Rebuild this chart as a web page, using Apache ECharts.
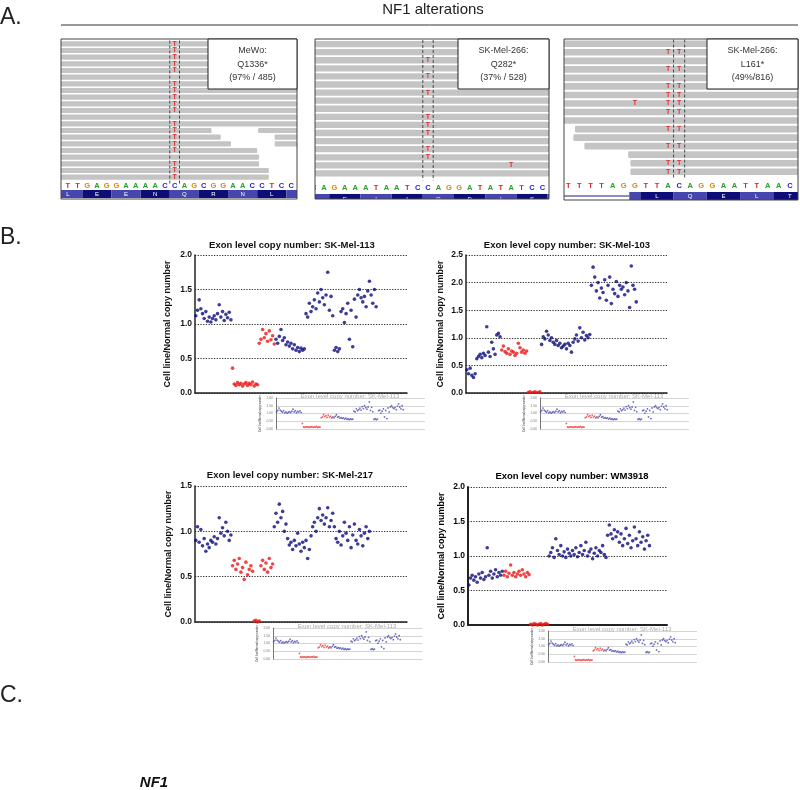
<!DOCTYPE html>
<html><head><meta charset="utf-8">
<script src="https://cdn.jsdelivr.net/npm/echarts@6/dist/echarts.min.js"></script>
<style>html,body{margin:0;padding:0;background:#fff}#c{width:800px;height:790px}</style>
</head><body><div id="c"></div>
<script>
// ================= DATA =================
const sectionLabels = ["A.", "B.", "C."];
const panelATitle = "NF1 alterations";
const geneLabel = "NF1";

// --- Panel A: read pile-ups ---
const labelMeWo = ["MeWo:", "Q1336*", "(97% / 485)"];
const labelQ282 = ["SK-Mel-266:", "Q282*", "(37% / 528)"];
const labelL161 = ["SK-Mel-266:", "L161*", "(49%/816)"];

const seqMeWo = "TTGAGGAAAACCAGCGGAACCTCC";
const seqQ282 = "CAGAAATAATCCAGGATATATCC";
const seqL161 = "TTTTAGGTTACAGGAATTAACT";

// codons: [start base, end base, amino acid]
const codonMeWo = [[-1,2,"L"],[2,5,"E"],[5,8,"E"],[8,11,"N"],[11,14,"Q"],[14,17,"R"],[17,20,"N"],[20,23,"L"],[23,26,""]];
const codonQ282 = [[-1,2,""],[2,5,"E"],[5,8,"I"],[8,11,"I"],[11,14,"Q"],[14,17,"D"],[17,20,"I"],[20,23,"S"],[23,26,""]];
const codonL161 = [[6,7,""],[7,10,"L"],[10,13,"Q"],[13,16,"E"],[16,19,"L"],[19,22,"T"],[22,25,""]];
const intronL161 = [[-1,6]];

// reads: [row, start base, end base]
const readsMeWo = [[0,-1,25],[1,-1,25],[2,-1,25],[3,-1,25],[4,-1,25],[5,-1,25],[6,-1,25],[7,-1,25],[8,-1,25],[9,-1,25],[10,-1,25],[11,-1,25],[12,-1,25],
  [13,-1,15.3],[13,20.1,25],[14,-1,16.25],[14,21.8,25],[15,-1,17.3],[15,21.8,25],[16,-1,20.0],[17,-1,20.2],[18,-1,20.2],[19,-1,21.2],[20,-1,21.2]];
const readsQ282 = [[0,0,25],[1,0,25],[2,0,25],[3,0,25],[4,0,25],[5,0,25],[6,0,25],[7,0,25],[8,0,25],[9,0,25],[10,0,25],[11,0,25],[12,0,25],[13,0,25],[14,0,25],[15,0,25],[16,0,25]];
const readsL161 = [[0,-1,24],[1,-1,24],[2,-1,24],[3,-1,24],[4,-1,24],[5,-1,24],[6,-1,24],[7,-1,24],[8,-1,24],[9,-1,24],
  [10,1.1,24],[11,0.95,24],[12,1.95,24],[13,5.9,24],[14,6.1,24],[15,6.1,24]];

// mismatches (T): [base, row]
const mmMeWo = [[11,0],[11,1],[11,2],[11,3],[11,4],[11,6],[11,7],[11,8],[11,9],[11,10],[11,12],[11,13],[11,14],[11,15],[11,16],[11,18],[11,19],[11,20]];
const mmQ282 = [[11,2],[11,4],[11,6],[11,9],[11,10],[11,11],[11,13],[11,14],[19,15]];
const mmL161 = [[9,1],[10,1],[9,3],[10,3],[9,5],[10,5],[9,6],[10,6],[9,7],[10,7],[6,7],[9,8],[10,8],[9,10],[10,10],[9,12],[10,12],[9,14],[10,14],[9,15],[10,15]];
const markMeWo = [11, 12], markQ282 = [11, 12], markL161 = [10, 11];

// --- Panel B: exon level copy number (cell line / normal), in exon order ---
const chartTitles = ["Exon level copy number: SK-Mel-113", "Exon level copy number: SK-Mel-103",
                     "Exon level copy number: SK-Mel-217", "Exon level copy number: WM3918"];
const yAxisName = "Cell line/Normal copy number";
const cn113 = [1.12,1.20,1.35,1.22,1.15,1.08,1.18,1.04,1.10,1.03,1.08,1.12,1.06,1.15,1.28,1.10,1.18,1.05,1.14,1.09,1.17,1.06,
  0.36,0.13,0.11,0.15,0.12,0.14,0.10,0.13,0.15,0.11,0.14,0.12,0.16,0.10,0.13,0.12,
  0.72,0.78,0.92,0.80,0.86,0.75,0.90,0.77,0.83,0.71,
  0.78,0.72,0.82,0.92,0.76,0.80,0.70,0.74,0.68,0.72,0.64,0.70,0.62,0.66,0.60,0.65,0.62,0.64,
  1.15,1.10,1.30,1.18,1.25,1.35,1.22,1.45,1.32,1.50,1.38,1.28,1.42,1.75,1.20,1.40,1.12,
  0.62,0.66,0.60,0.64,
  1.18,1.22,1.02,1.15,1.30,0.78,1.20,0.67,1.36,1.10,1.42,1.50,1.38,1.32,1.40,1.25,1.48,1.62,1.42,1.30,1.50,1.25];
const cn103 = [0.42,0.35,0.45,0.32,0.28,0.35,
  0.62,0.66,0.70,0.64,0.72,0.68,1.20,0.74,0.66,0.92,0.80,0.70,1.05,1.08,1.02,
  0.78,0.85,0.75,0.72,0.80,0.70,0.76,0.74,0.68,0.72,0.90,0.82,0.74,0.78,0.72,0.76,
  0.01,0.02,0.00,0.01,0.02,0.00,0.01,0.02,
  0.88,1.02,0.98,1.12,1.05,0.95,1.00,0.92,0.88,0.95,0.86,0.90,0.82,0.85,0.88,0.80,0.90,0.86,0.74,0.92,0.98,1.05,0.94,1.18,1.00,1.10,0.96,1.04,1.00,1.06,
  1.95,2.28,2.10,1.85,2.00,1.72,1.90,1.82,2.05,1.68,1.95,2.10,1.62,1.88,1.80,2.02,1.75,1.95,1.88,1.92,1.78,2.00,1.85,1.55,2.30,1.95,1.88,1.65];
const cn217 = [0.90,1.05,0.88,1.02,0.84,0.92,0.78,0.86,0.82,0.90,0.88,0.94,0.86,0.92,1.15,0.98,1.04,0.95,1.10,1.00,0.90,0.96,
  0.62,0.68,0.58,0.64,0.70,0.55,0.60,0.47,0.66,0.52,0.58,0.62,0.56,
  0.01,0.02,0.00,0.01,
  0.62,0.68,0.58,0.65,0.55,0.70,0.60,0.64,
  1.05,1.20,1.10,1.30,1.15,1.22,1.00,1.08,
  0.92,0.85,0.88,0.80,0.90,0.84,0.98,0.86,0.78,0.88,0.82,0.90,0.70,0.80,
  0.95,1.05,1.10,1.00,1.15,1.25,1.12,1.18,1.08,1.15,1.26,1.05,1.12,1.20,
  1.05,0.92,0.88,1.00,0.85,0.95,1.10,0.98,0.90,1.05,0.82,0.96,1.08,0.90,0.86,1.02,0.95,0.84,0.98,1.05,0.92,1.00];
const cnWM3918 = [0.58,0.68,0.72,0.65,0.70,0.62,0.74,0.68,0.76,0.66,0.70,1.12,0.72,0.78,0.68,0.74,0.80,0.70,0.76,0.72,0.78,
  0.72,0.78,0.70,0.75,0.87,0.72,0.76,0.70,0.74,0.78,0.72,0.80,0.74,0.70,0.76,0.73,
  0.01,0.00,0.02,0.01,0.00,0.01,0.02,0.00,0.01,0.02,0.01,
  1.00,1.05,1.12,0.98,1.25,1.08,1.02,1.15,1.00,1.06,0.98,1.10,1.04,1.00,1.08,1.02,1.12,0.99,1.05,1.15,1.02,1.08,1.20,1.00,1.06,1.10,0.96,1.04,1.12,1.00,1.08,1.05,1.15,1.02,0.98,
  1.30,1.45,1.32,1.25,1.38,1.28,1.35,1.20,1.32,1.15,1.25,1.40,1.18,1.30,1.12,1.22,1.42,1.25,1.15,1.35,1.20,1.28,1.10,1.22,1.30,1.15];
// exon index ranges inside the NF1 deletion (shown red)
const del113 = [22, 47], del103 = [21, 44], del217 = [22, 46], delWM3918 = [21, 47];
const yMax = [2.0, 2.5, 1.5, 2.0];
const insetTitle = "Exon level copy number: SK-Mel-113";

// ================= LAYOUT / STYLE =================
const FONT = '"Liberation Sans", Arial, Helvetica, sans-serif';
const NAVY = '#0b0b7c', RED = '#ee1515';
const BASE_COL = {A:'#26a026', C:'#1c1cd0', G:'#d38a00', T:'#e02424'};

const panels = [
  {reads:readsMeWo, mm:mmMeWo, seq:seqMeWo, codons:codonMeWo, introns:[], label:labelMeWo, mark:markMeWo,
   box:[61,39,297,199], xMin:-0.2, xMax:24.1, rows:21, readsTop:40.5, readsH:140, seqTop:181, seqH:17,
   letterY:0.28, aaY:[0.53,1.0], aaText:0.765, lab:[208,39,297,89]},
  {reads:readsQ282, mm:mmQ282, seq:seqQ282, codons:codonQ282, introns:[], label:labelQ282, mark:markQ282,
   box:[315,39,549,199], xMin:0.635, xMax:23.135, rows:17, readsTop:40, readsH:137.5, seqTop:181, seqH:18,
   letterY:0.37, aaY:[0.72,1.4], aaText:1.02, lab:[458,39,549,89]},
  {reads:readsL161, mm:mmL161, seq:seqL161, codons:codonL161, introns:intronL161, label:labelL161, mark:markL161,
   box:[564,39,798,200], xMin:0.11, xMax:21.23, rows:16, readsTop:39.5, readsH:136.5, seqTop:181, seqH:19,
   letterY:0.25, aaY:[0.58,1.0], aaText:0.79, lab:[707,39,798,89]}
];

const mains = [
  {cn:cn113, del:del113, left:195, top:255, width:212, height:138, W:127, title:[292,245], inset:[276,398], nameGap:23},
  {cn:cn103, del:del103, left:466, top:255, width:201, height:138, W:121, title:[567,245], inset:[540,398], nameGap:21},
  {cn:cn217, del:del217, left:195, top:486, width:212, height:136, W:127, title:[290,475], inset:[273,628], nameGap:22},
  {cn:cnWM3918, del:delWM3918, left:468, top:487, width:199, height:138, W:119, title:[572,476], inset:[548,631], nameGap:22, heavy:true}
];

const option = {animation:false, grid:[], xAxis:[], yAxis:[], series:[], graphic:{elements:[]}};
const G = option.graphic.elements;
function addGrid(g, xa, ya){ option.grid.push(g); const i=option.grid.length-1; xa.gridIndex=i; ya.gridIndex=i; option.xAxis.push(xa); option.yAxis.push(ya); return i; }
function txt(text, x, y, font, fill, align, z){ G.push({type:'text', z:z||20, style:{text, x, y, font, fill:fill||'#222', textAlign:align||'center', align:align||'center', textVerticalAlign:'middle', verticalAlign:'middle'}}); }

// ---- Panel A ----
txt(sectionLabels[0], 0, 18, '23px '+FONT, '#222', 'left');
txt(panelATitle, 433, 10, '15px '+FONT, '#222');
G.push({type:'line', shape:{x1:61, y1:25, x2:798, y2:25}, style:{stroke:'#333', lineWidth:1}, z:5});

panels.forEach(p => {
  const hid = {show:false};
  const gR = addGrid({left:p.box[0], top:p.readsTop, width:p.box[2]-p.box[0], height:p.readsH},
    {type:'value', min:p.xMin, max:p.xMax, show:false, splitLine:hid},
    {type:'value', min:0, max:p.rows, inverse:true, show:false, splitLine:hid});
  const gS = addGrid({left:p.box[0], top:p.seqTop, width:p.box[2]-p.box[0], height:p.seqH},
    {type:'value', min:p.xMin, max:p.xMax, show:false, splitLine:hid},
    {type:'value', min:0, max:1, inverse:true, show:false, splitLine:hid});
  // reads
  option.series.push({type:'custom', xAxisIndex:gR, yAxisIndex:gR, clip:true, silent:true, data:p.reads,
    renderItem:(params, api) => {
      const r = api.value(0), s = api.value(1), e = api.value(2);
      const a = api.coord([s, r]), b = api.coord([e, r + 1]); const h = b[1] - a[1];
      return {type:'rect', shape:{x:a[0], y:a[1] + h*0.11, width:b[0]-a[0], height:h*0.78, r:1.2}, style:{fill:'#c4c4c4'}};
    }});
  // dashed guide lines
  option.series.push({type:'custom', xAxisIndex:gR, yAxisIndex:gR, clip:false, silent:true, z:3, data:p.mark.map(m=>[m, 0]),
    renderItem:(params, api) => {
      const x = api.coord([api.value(0), 0])[0]; const cs = params.coordSys;
      return {type:'line', shape:{x1:x, y1:cs.y, x2:x, y2:cs.y+cs.height+3}, style:{stroke:'#3a3a3a', lineWidth:0.9, lineDash:[3,2]}};
    }});
  // mismatches
  option.series.push({type:'custom', xAxisIndex:gR, yAxisIndex:gR, clip:true, silent:true, z:4, data:p.mm,
    renderItem:(params, api) => {
      const c = api.coord([api.value(0) + 0.5, api.value(1) + 0.5]);
      return {type:'text', x:c[0], y:c[1], style:{text:'T', fill:'#e03030', font:'bold 7px '+FONT, textAlign:'center', align:'center', textVerticalAlign:'middle', verticalAlign:'middle'}};
    }});
  // reference sequence
  option.series.push({type:'custom', xAxisIndex:gS, yAxisIndex:gS, clip:true, silent:true,
    data:p.seq.split('').map((ch, k) => [k + 0.5, p.letterY]),
    renderItem:(params, api) => {
      const c = api.coord([api.value(0), api.value(1)]); const ch = p.seq[params.dataIndex];
      return {type:'text', x:c[0], y:c[1], style:{text:ch, fill:BASE_COL[ch], font:'bold 7.5px '+FONT, textAlign:'center', align:'center', textVerticalAlign:'middle', verticalAlign:'middle'}};
    }});
  // intron line
  if (p.introns.length) option.series.push({type:'custom', xAxisIndex:gS, yAxisIndex:gS, clip:true, silent:true,
    data:p.introns, renderItem:(params, api) => {
      const ym = (p.aaY[0] + p.aaY[1]) / 2;
      const a = api.coord([api.value(0), ym]), b = api.coord([api.value(1), ym]);
      return {type:'line', shape:{x1:a[0], y1:a[1], x2:b[0], y2:b[1]}, style:{stroke:'#1a1a80', lineWidth:1}};
    }});
  // amino acid track
  option.series.push({type:'custom', xAxisIndex:gS, yAxisIndex:gS, clip:true, silent:true,
    data:p.codons.map(c => [c[0], c[1]]),
    renderItem:(params, api) => {
      const i = params.dataIndex;
      const a = api.coord([api.value(0), p.aaY[0]]), b = api.coord([api.value(1), p.aaY[1]]);
      const t = api.coord([(api.value(0) + api.value(1)) / 2, p.aaText]);
      const ch = [{type:'rect', shape:{x:a[0], y:a[1], width:b[0]-a[0], height:b[1]-a[1]}, style:{fill: i % 2 ? '#0d0d78' : '#4646ae'}}];
      if (p.codons[i][2]) ch.push({type:'text', x:t[0], y:t[1], style:{text:p.codons[i][2], fill:'#fff', font:'6px '+FONT, textAlign:'center', align:'center', textVerticalAlign:'middle', verticalAlign:'middle'}});
      return {type:'group', children:ch};
    }});
  // frame and label box
  G.push({type:'rect', z:6, shape:{x:p.box[0], y:p.box[1], width:p.box[2]-p.box[0], height:p.box[3]-p.box[1]}, style:{fill:'none', stroke:'#444', lineWidth:1}});
  G.push({type:'rect', z:7, shape:{x:p.lab[0], y:p.lab[1], width:p.lab[2]-p.lab[0], height:p.lab[3]-p.lab[1]}, style:{fill:'#fff', stroke:'#222', lineWidth:1}});
  const cx = (p.lab[0] + p.lab[2]) / 2;
  p.label.forEach((s, i) => txt(s, cx, p.lab[1] + 12 + i * 13.5, '9px '+FONT, '#333'));
});

// ---- Panel B ----
txt(sectionLabels[1], 0, 238, '23px '+FONT, '#222', 'left');
mains.forEach((m, k) => {
  const heavy = m.heavy;
  const tStyle = {fontFamily:FONT, fontWeight: heavy ? 900 : 'bold', color: heavy ? '#000' : '#111'};
  const gi = addGrid({left:m.left, top:m.top, width:m.width, height:m.height},
    {type:'value', min:0, max:m.W, axisLine:{show:true, onZero:false, lineStyle:{color:'#222', width: heavy ? 2 : 1.5}}, axisTick:{show:false}, axisLabel:{show:false}, splitLine:{show:false}},
    {type:'value', min:0, max:yMax[k], interval:0.5, name:yAxisName, nameLocation:'middle', nameRotate:90, nameGap:m.nameGap,
     nameTextStyle:Object.assign({fontSize:9}, tStyle),
     axisLine:{show:true, lineStyle:{color:'#222', width: heavy ? 2 : 1.5}}, axisTick:{show:false},
     axisLabel:Object.assign({fontSize:8.5, margin:3, formatter:v => v.toFixed(1)}, tStyle),
     splitLine:{show:true, lineStyle:{color:'#333', width:1.2, type:[1.3,1.4]}}});
  const blue = [], red = [];
  m.cn.forEach((v, i) => { if (v == null) return; (i >= m.del[0] && i <= m.del[1] ? red : blue).push([i + 0.5, v]); });
  option.series.push({type:'scatter', xAxisIndex:gi, yAxisIndex:gi, silent:true, symbolSize:3.6, data:blue, itemStyle:{color:NAVY}, z:2});
  option.series.push({type:'scatter', xAxisIndex:gi, yAxisIndex:gi, silent:true, symbolSize:3.6, data:red, itemStyle:{color:RED}, z:2});
  txt(chartTitles[k], m.title[0], m.title[1], 'bold 9.5px ' + FONT, heavy ? '#000' : '#111');

  // pasted thumbnail of the SK-Mel-113 plot
  const L = m.inset[0], T = m.inset[1];
  G.push({type:'rect', z:9, shape:{x:L-27, y:T-4, width:177, height:40}, style:{fill:'#fff'}});
  const ii = addGrid({left:L, top:T, width:149, height:31},
    {type:'value', min:0, max:127, show:false, z:10, splitLine:{show:false}},
    {type:'value', min:0, max:2, interval:0.5, z:10, name:yAxisName, nameLocation:'middle', nameRotate:90, nameGap:14,
     nameTextStyle:{fontSize:2.6, color:'#666', fontFamily:FONT, fontWeight:'bold'},
     axisLine:{show:true, lineStyle:{color:'#555', width:0.8}}, axisTick:{show:false},
     axisLabel:{fontSize:3.4, color:'#777', margin:3, fontFamily:FONT, formatter:v => v.toFixed(2)},
     splitLine:{show:true, lineStyle:{color:'#b8b8b8', width:0.6}}});
  const ib = [], ir = [];
  cn113.forEach((v, i) => { if (v == null) return; (i >= del113[0] && i <= del113[1] ? ir : ib).push([i + 0.5, v]); });
  option.series.push({type:'scatter', xAxisIndex:ii, yAxisIndex:ii, silent:true, symbolSize:1.8, data:ib, itemStyle:{color:'#4a4ab0'}, z:11});
  option.series.push({type:'scatter', xAxisIndex:ii, yAxisIndex:ii, silent:true, symbolSize:1.8, data:ir, itemStyle:{color:'#ee3a3a'}, z:11});
  txt(insetTitle, L + 74, T - 1.5, '6px ' + FONT, '#aaa', 'center', 12);
});

// ---- Panel C ----
txt(sectionLabels[2], 0, 696, '23px '+FONT, '#222', 'left');
txt(geneLabel, 154, 783, 'italic bold 15px '+FONT, '#111');

const chart = echarts.init(document.getElementById('c'), null, {renderer:'canvas'});
chart.setOption(option);
</script></body></html>
